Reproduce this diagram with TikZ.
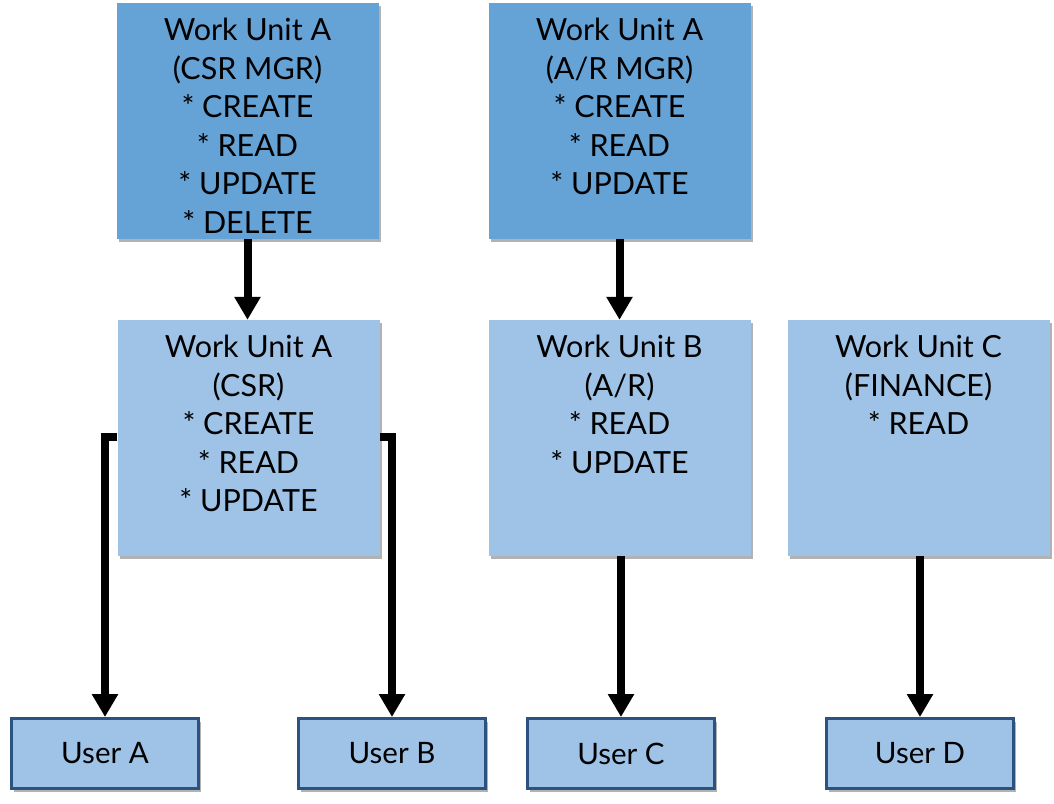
\documentclass[tikz,border=0pt]{standalone}
\usepackage{fontspec}
\setmainfont{Lato}
\usetikzlibrary{arrows.meta,shadows}

\definecolor{mgrblue}{RGB}{101,162,214}
\definecolor{unitblue}{RGB}{158,195,230}
\definecolor{userline}{RGB}{44,82,128}

\tikzset{
  boxshadow/.style={drop shadow={shadow xshift=2pt, shadow yshift=-3pt, opacity=0.3, fill=black}},
  wubox/.style={rectangle, minimum width=262pt, minimum height=236pt, inner sep=0pt, boxshadow},
  wutext/.style={anchor=north, align=center, inner sep=0pt, yshift=-15pt, font=\fontsize{30.5}{38.6}\selectfont},
  userbox/.style={rectangle, draw=userline, line width=3pt, fill=unitblue, minimum width=187pt, minimum height=70pt, font=\fontsize{29.5}{34}\selectfont, boxshadow},
  flow/.style={line width=8pt, -{Triangle[width=25pt, length=23pt]}}
}

\begin{document}
\begin{tikzpicture}[x=1pt, y=1pt]
\useasboundingbox (0, 0) rectangle (1054, -803);

% managers
\node at (247.5, -121) [wubox, fill=mgrblue, label={[wutext]north:{Work Unit A\\(CSR MGR)\\* CREATE\\* READ\\* UPDATE\\* DELETE}}] (csrmgr) {};
\node at (619.5, -121) [wubox, fill=mgrblue, label={[wutext]north:{Work Unit A\\(A/R MGR)\\* CREATE\\* READ\\* UPDATE}}] (armgr) {};

% work units
\node at (248.5, -438) [wubox, fill=unitblue, label={[wutext]north:{Work Unit A\\(CSR)\\* CREATE\\* READ\\* UPDATE}}] (csr) {};
\node at (619.5, -438) [wubox, fill=unitblue, label={[wutext]north:{Work Unit B\\(A/R)\\* READ\\* UPDATE}}] (ar) {};
\node at (918.5, -438) [wubox, fill=unitblue, label={[wutext]north:{Work Unit C\\(FINANCE)\\* READ}}] (finance) {};

% users
\node at (105, -753.5) [userbox] (usera) {User A};
\node at (392, -753.5) [userbox] (userb) {User B};
\node at (621, -753.5) [userbox] (userc) {User C};
\node at (920, -753.5) [userbox] (userd) {User D};

\draw[flow] (csrmgr.south) -- (csr.north -| csrmgr.south);
\draw[flow] (armgr.south) -- (ar.north);
\draw[flow] ([yshift=-117pt]csr.north west) -| (usera.north);
\draw[flow] ([yshift=-117pt]csr.north east) -| (userb.north);
\draw[flow] (ar.south -| userc.north) -- (userc.north);
\draw[flow] (finance.south -| userd.north) -- (userd.north);
\end{tikzpicture}
\end{document}
